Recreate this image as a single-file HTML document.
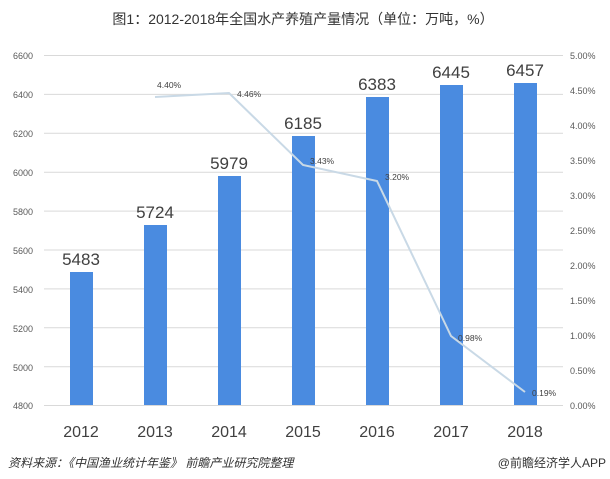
<!DOCTYPE html>
<html><head><meta charset="utf-8"><style>
body{margin:0;background:#fff;}
svg{display:block;font-family:"Liberation Sans","Noto Sans CJK SC",sans-serif;}
</style></head><body>
<svg width="610" height="479" viewBox="0 0 610 479">
<text x="303" y="24" font-size="14" text-anchor="middle" fill="#333">图1：2012-2018年全国水产养殖产量情况（单位：万吨，%）</text>
<g stroke="#d9d9d9" stroke-width="1">
<line x1="44" y1="55.5" x2="563" y2="55.5"/><line x1="44" y1="94.4" x2="563" y2="94.4"/>
<line x1="44" y1="133.3" x2="563" y2="133.3"/><line x1="44" y1="172.2" x2="563" y2="172.2"/>
<line x1="44" y1="211.1" x2="563" y2="211.1"/><line x1="44" y1="250" x2="563" y2="250"/>
<line x1="44" y1="288.9" x2="563" y2="288.9"/><line x1="44" y1="327.8" x2="563" y2="327.8"/>
<line x1="44" y1="366.7" x2="563" y2="366.7"/><line x1="44" y1="405.5" x2="563" y2="405.5"/>
</g>
<g font-size="9" fill="#595959" text-anchor="end">
<text x="33" y="59">6600</text><text x="33" y="98">6400</text><text x="33" y="137">6200</text>
<text x="33" y="176">6000</text><text x="33" y="215">5800</text><text x="33" y="254">5600</text>
<text x="33" y="293">5400</text><text x="33" y="332">5200</text><text x="33" y="371">5000</text>
<text x="33" y="409">4800</text>
</g>
<g font-size="9" fill="#595959" text-anchor="start">
<text x="570" y="59">5.00%</text><text x="570" y="94">4.50%</text><text x="570" y="129">4.00%</text>
<text x="570" y="164">3.50%</text><text x="570" y="199">3.00%</text><text x="570" y="234">2.50%</text>
<text x="570" y="269">2.00%</text><text x="570" y="304">1.50%</text><text x="570" y="339">1.00%</text>
<text x="570" y="374">0.50%</text><text x="570" y="409">0.00%</text>
</g>
<g fill="#4a8be0">
<rect x="70" y="272" width="23" height="133"/>
<rect x="144" y="225" width="23" height="180"/>
<rect x="218" y="176" width="23" height="229"/>
<rect x="292" y="136" width="23" height="269"/>
<rect x="366" y="97" width="23" height="308"/>
<rect x="440" y="85" width="23" height="320"/>
<rect x="514" y="83" width="23" height="322"/>
</g>
<g font-size="17" fill="#404040" text-anchor="middle">
<text x="81" y="265">5483</text><text x="155" y="218">5724</text><text x="229" y="169">5979</text>
<text x="303" y="129">6185</text><text x="377" y="90">6383</text><text x="451" y="78">6445</text>
<text x="525" y="76">6457</text>
</g>
<polyline points="155,97 229,93 303,165 377,181 451,336 525,392" fill="none" stroke="#c9d9e6" stroke-width="2"/>
<g font-size="8.5" fill="#404040">
<text x="157" y="88">4.40%</text><text x="237" y="97">4.46%</text><text x="310" y="164">3.43%</text>
<text x="385" y="180">3.20%</text><text x="458" y="341">0.98%</text><text x="532" y="396">0.19%</text>
</g>
<g font-size="16" fill="#404040" text-anchor="middle">
<text x="81" y="437">2012</text><text x="155" y="437">2013</text><text x="229" y="437">2014</text>
<text x="303" y="437">2015</text><text x="377" y="437">2016</text><text x="451" y="437">2017</text>
<text x="525" y="437">2018</text>
</g>
<text x="8" y="467" font-size="12" font-style="italic" fill="#333">资料来源：《中国渔业统计年鉴》 前瞻产业研究院整理</text>
<text x="606" y="467" font-size="12" fill="#333" text-anchor="end">@前瞻经济学人APP</text>
</svg>
</body></html>
